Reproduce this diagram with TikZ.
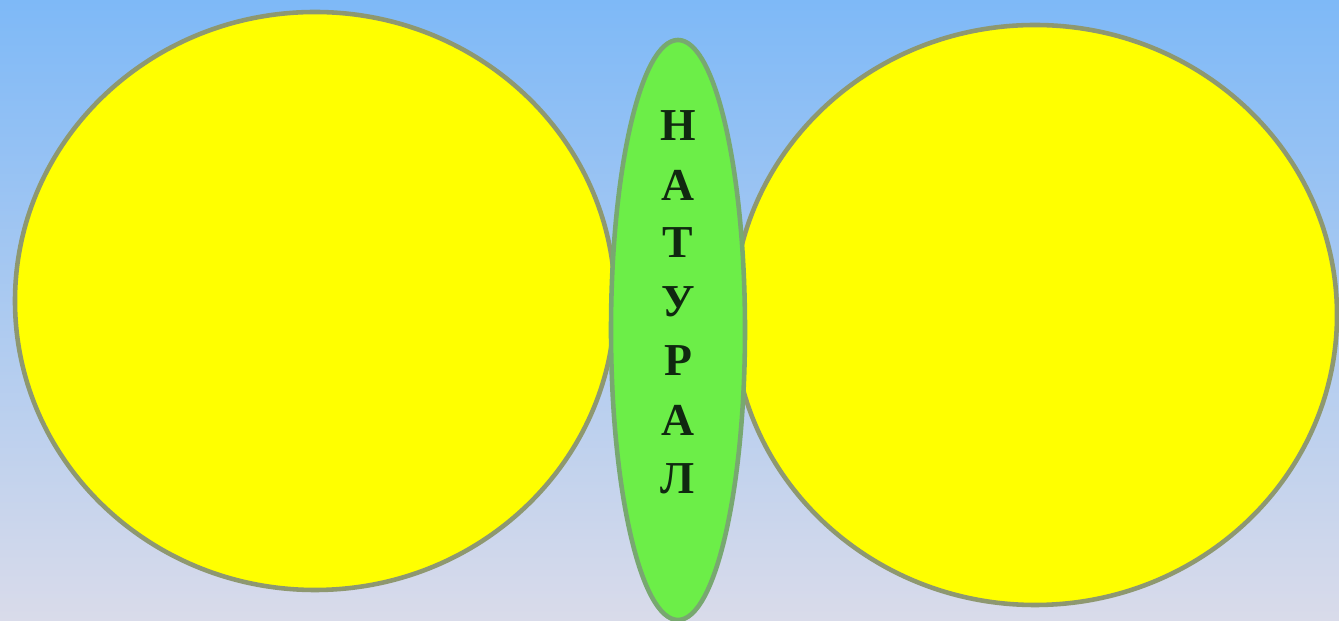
\documentclass[tikz,border=0pt]{standalone}
\usepackage{fontspec}
\setmainfont{Liberation Serif}
\definecolor{bgtop}{HTML}{7EB9F7}
\definecolor{bgbot}{HTML}{D9DBEA}
\definecolor{sunfill}{HTML}{FFFF00}
\definecolor{sunedge}{HTML}{8E9870}
\definecolor{leaf}{HTML}{6CEE48}
\definecolor{leafedge}{HTML}{78A870}
\definecolor{ink}{HTML}{102810}
\begin{document}
\begin{tikzpicture}[
  sun/.style={draw=sunedge, line width=1.3pt, fill=sunfill},
  leafshape/.style={draw=leafedge, line width=1.3pt, fill=leaf},
  letter/.style={font=\bfseries\fontsize{13}{15}\selectfont, text=ink}
]
\useasboundingbox (0,0) rectangle (13.39,6.21);
\shade[top color=bgtop, bottom color=bgbot] (0,0) rectangle (13.39,6.21);
\path[sun] (3.15,3.20) ellipse [x radius=3.00, y radius=2.89];
\path[sun] (10.35,3.06) ellipse [x radius=3.02, y radius=2.90];
\path[leafshape] (6.78,2.91) ellipse [x radius=0.67, y radius=2.90];
\node[letter] (l1) at (6.78,4.95) {Н};
\node[letter] (l2) at (6.78,4.36) {А};
\node[letter] (l3) at (6.78,3.78) {Т};
\node[letter] (l4) at (6.78,3.19) {У};
\node[letter] (l5) at (6.78,2.60) {Р};
\node[letter] (l6) at (6.78,2.01) {А};
\node[letter] (l7) at (6.78,1.42) {Л};
\end{tikzpicture}
\end{document}
